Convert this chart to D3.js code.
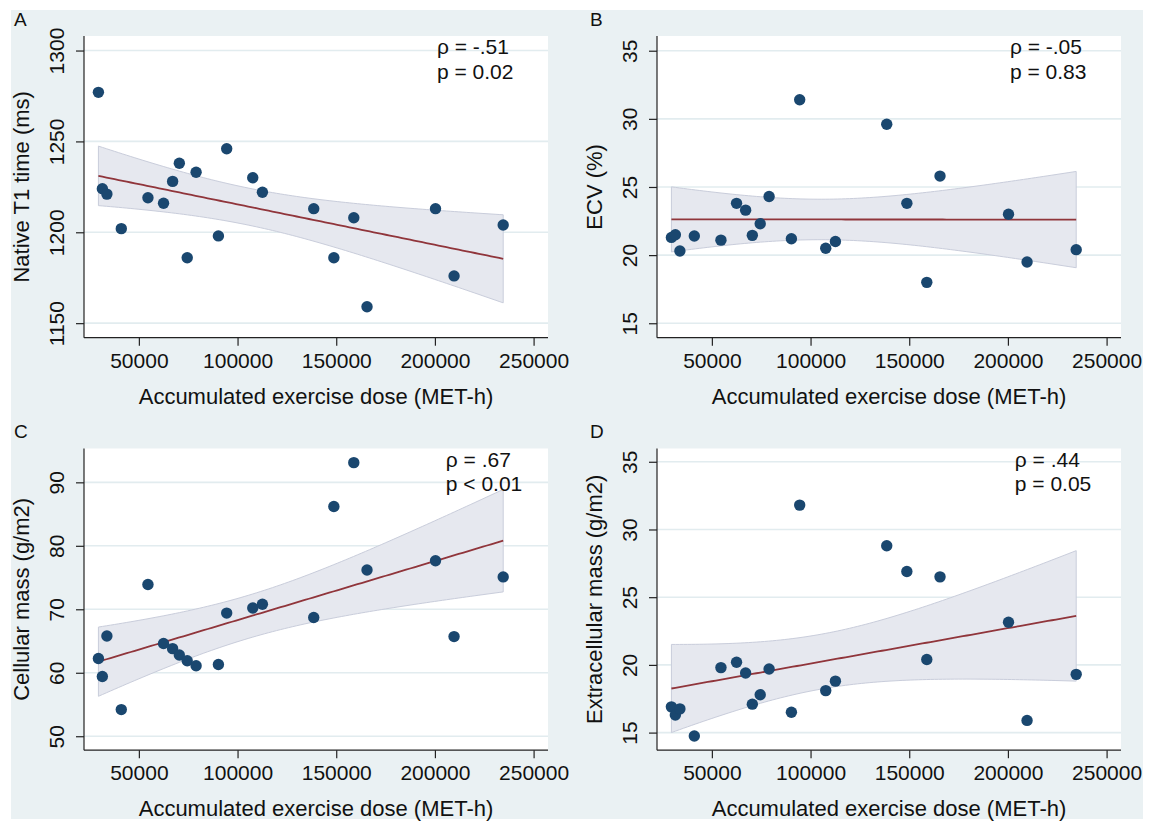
<!DOCTYPE html>
<html>
<head>
<meta charset="UTF-8">
<title>Exercise dose vs CMR markers</title>
<style>
    body {
        margin: 0;
        background: white;
        font-family: "Liberation Sans", Arial, sans-serif;
    }
</style>
</head>
<body>
<script src="https://cdn.jsdelivr.net/npm/d3@7"></script>
<script>

    // accumulated exercise dose (MET-h), same athletes in every panel
    var dose = [29500, 31500, 33800, 41100, 54600, 62500, 67100, 70500, 74500, 79000, 90300,
        94500, 107700, 112600, 138600, 148800, 158900, 165600, 200300, 209700, 234600];

    var nativeT1 = [1277, 1224, 1221, 1202, 1219, 1216, 1228, 1238, 1186, 1233, 1198,
        1246, 1230, 1222, 1213, 1186, 1208, 1159, 1213, 1176, 1204];
    var ecv = [21.3, 21.5, 20.3, 21.4, 21.1, 23.8, 23.3, 21.45, 22.3, 24.3, 21.2,
        31.4, 20.5, 21.0, 29.6, 23.8, 18.0, 25.8, 23.0, 19.5, 20.4];
    var cellMass = [62.25, 59.4, 65.8, 54.2, 73.9, 64.6, 63.8, 62.8, 61.9, 61.1, 61.3,
        69.4, 70.2, 70.8, 68.7, 86.2, 93.1, 76.2, 77.65, 65.7, 75.1];
    var extraMass = [16.9, 16.3, 16.75, 14.75, 19.8, 20.2, 19.4, 17.1, 17.8, 19.7, 16.5,
        31.8, 18.1, 18.8, 28.8, 26.9, 20.4, 26.5, 23.15, 15.9, 19.3];

    var panelLetters = ["A", "B", "C", "D"];
    var yTitles = ["Native T1 time (ms)", "ECV (%)", "Cellular mass (g/m2)", "Extracellular mass (g/m2)"];
    var yTicks = [[1150, 1200, 1250, 1300], [15, 20, 25, 30, 35], [50, 60, 70, 80, 90], [15, 20, 25, 30, 35]];
    var yDomains = [[1142, 1308], [13.94, 36.08], [47.8, 95.33], [13.7, 35.98]];
    var xTicks = [50000, 100000, 150000, 200000, 250000];
    var xDomain = [22200, 257300];
    var rhoLabels = ["\u03c1 = -.51", "\u03c1 = -.05", "\u03c1 = .67", "\u03c1 = .44"];
    var pLabels = ["p = 0.02", "p = 0.83", "p < 0.01", "p = 0.05"];
    var labelDose = [201000, 201000, 205500, 203500];
    var xTitle = "Accumulated exercise dose (MET-h)";

    var series = [nativeT1, ecv, cellMass, extraMass];

    var width = 1157, height = 821;
    var plotW = 464, plotH = 301.7;
    var lefts = [84, 657], tops = [36, 448.5];

    var navy = "#1a476f", maroon = "#90353b", bg = "#eaf1f3", grid = "#e2ecef";

    var svg = d3.select("body").append("svg")
        .attr("width", width)
        .attr("height", height);

    svg.append("rect")
        .attr("x", 11).attr("y", 10)
        .attr("width", 1132).attr("height", 809)
        .attr("fill", bg);

    // linear fit with 95% confidence band (as Stata lfitci)
    function fitci(xs, ys) {
        var n = xs.length, mx = d3.mean(xs), my = d3.mean(ys);
        var sxx = d3.sum(xs, function(x) { return (x - mx) * (x - mx); });
        var sxy = d3.sum(xs, function(x, i) { return (x - mx) * (ys[i] - my); });
        var b = sxy / sxx, a = my - b * mx;
        var sse = d3.sum(xs, function(x, i) { var r = ys[i] - a - b * x; return r * r; });
        var s = Math.sqrt(sse / (n - 2)), t = 2.093;
        var lo = d3.min(xs), hi = d3.max(xs);
        var pts = d3.range(0, 101).map(function(k) {
            var x = lo + (hi - lo) * k / 100;
            var yh = a + b * x;
            var se = s * Math.sqrt(1 / n + (x - mx) * (x - mx) / sxx);
            return { x: x, y: yh, y0: yh - t * se, y1: yh + t * se };
        });
        return pts;
    }

    series.forEach(function(ys, p) {
        var col = p % 2, row = Math.floor(p / 2);
        var left = lefts[col], top = tops[row];

        var x = d3.scaleLinear().domain(xDomain).range([0, plotW]);
        var y = d3.scaleLinear().domain(yDomains[p]).range([plotH, 0]);

        var g = svg.append("g").attr("transform", "translate(" + left + "," + top + ")");

        g.append("rect")
            .attr("width", plotW).attr("height", plotH)
            .attr("fill", "white");

        g.selectAll(".grid")
            .data(yTicks[p])
            .enter().append("line")
            .attr("class", "grid")
            .attr("x1", 0).attr("x2", plotW)
            .attr("y1", function(d) { return y(d); })
            .attr("y2", function(d) { return y(d); })
            .attr("stroke", grid)
            .attr("stroke-width", 1.6);

        var fit = fitci(dose, ys);

        g.append("path")
            .datum(fit)
            .attr("d", d3.area()
                .x(function(d) { return x(d.x); })
                .y0(function(d) { return y(d.y0); })
                .y1(function(d) { return y(d.y1); }))
            .attr("fill", "#e6e8ef")
            .attr("stroke", "#c9cddb")
            .attr("stroke-width", 1);

        g.append("path")
            .datum(fit)
            .attr("d", d3.line()
                .x(function(d) { return x(d.x); })
                .y(function(d) { return y(d.y); }))
            .attr("fill", "none")
            .attr("stroke", maroon)
            .attr("stroke-width", 1.8);

        g.selectAll(".dot")
            .data(ys)
            .enter().append("circle")
            .attr("class", "dot")
            .attr("cx", function(d, i) { return x(dose[i]); })
            .attr("cy", function(d) { return y(d); })
            .attr("r", 5.7)
            .attr("fill", navy);

        // axes
        var xAxis = g.append("g")
            .attr("transform", "translate(0," + plotH + ")")
            .call(d3.axisBottom(x).tickValues(xTicks).tickSize(8).tickPadding(7).tickFormat(d3.format("d")));
        var yAxis = g.append("g")
            .call(d3.axisLeft(y).tickValues(yTicks[p]).tickSize(8).tickFormat(d3.format("d")));

        [xAxis, yAxis].forEach(function(ax) {
            ax.select(".domain").attr("stroke", "#222").attr("stroke-width", 1.2);
            ax.selectAll(".tick line").attr("stroke", "#222").attr("stroke-width", 1.2);
            ax.selectAll("text")
                .attr("fill", "#111")
                .style("font-family", "'Liberation Sans', Arial, sans-serif")
                .style("font-size", "21px");
        });
        xAxis.select(".domain").attr("d", "M0,0H" + plotW);
        yAxis.select(".domain").attr("d", "M0,0V" + plotH);

        yAxis.selectAll(".tick text")
            .attr("x", null).attr("dy", null)
            .attr("transform", "translate(-20,0) rotate(-90)")
            .attr("text-anchor", "middle")
            .attr("y", 0);

        g.append("text")
            .attr("x", plotW / 2)
            .attr("y", plotH + 66)
            .attr("text-anchor", "middle")
            .attr("fill", "#111")
            .style("font-size", "22px")
            .text(xTitle);

        g.append("text")
            .attr("transform", "translate(-55," + (plotH / 2) + ") rotate(-90)")
            .attr("text-anchor", "middle")
            .attr("fill", "#111")
            .style("font-size", "22px")
            .text(yTitles[p]);

        g.append("text")
            .attr("x", x(labelDose[p]))
            .attr("y", 18)
            .attr("fill", "#111")
            .style("font-size", "21px")
            .text(rhoLabels[p]);
        g.append("text")
            .attr("x", x(labelDose[p]))
            .attr("y", 42.5)
            .attr("fill", "#111")
            .style("font-size", "21px")
            .text(pLabels[p]);

        svg.append("text")
            .attr("x", col === 0 ? 14 : 590)
            .attr("y", row === 0 ? 26 : 438)
            .attr("fill", "#111")
            .style("font-size", "19px")
            .text(panelLetters[p]);
    });

</script>
</body>
</html>
